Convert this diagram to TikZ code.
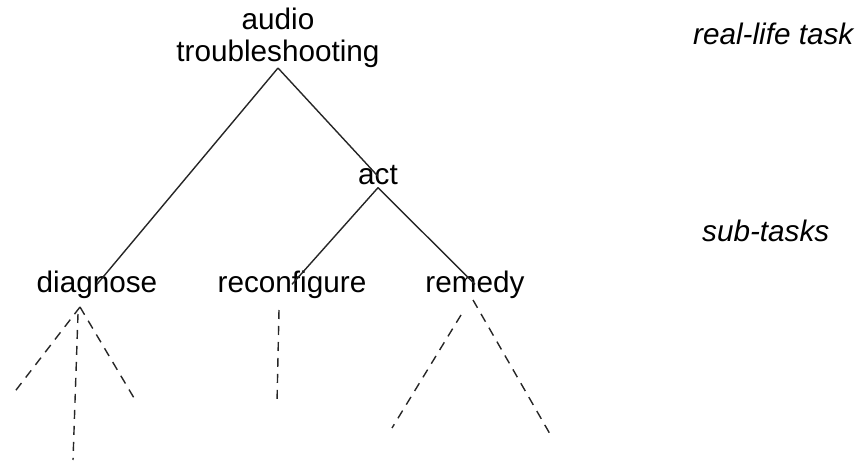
\documentclass[tikz,border=0pt]{standalone}
\usepackage{fontspec}
\setmainfont{Liberation Sans}
\begin{document}
\begin{tikzpicture}[x=1pt,y=-1pt,
  lbl/.style={font=\fontsize{29.7}{32}\selectfont, inner sep=0pt, text=black},
  tnode/.style={lbl, text height=0.85em, text depth=0.25em, anchor=base},
  edge/.style={draw=black!85, line width=1.4pt},
  dline/.style={draw=black!85, line width=1.4pt, dash pattern=on 9pt off 7pt},
  side/.style={lbl, font=\fontsize{29.7}{32}\selectfont\itshape, anchor=base west}]
\useasboundingbox (0,0) rectangle (867,462);
% tree nodes
\node[lbl, align=center, anchor=south] (root) at (278,68) {audio\\troubleshooting};
\node[tnode] (act) at (378,185) {act};
\node[tnode] (diag) at (97,293) {diagnose};
\node[tnode] (reconf) at (292,293) {reconfigure};
\node[tnode] (remedy) at (475,293) {remedy};
% side labels
\node[side] (real) at (693,45) {real-life task};
\node[side] (sub) at (702,242) {sub-tasks};
% solid edges
\draw[edge] (root.south) -- (diag.north);
\draw[edge] (root.south) -- (act.north);
\draw[edge] (act.south) -- (reconf.north);
\draw[edge] (act.south) -- (remedy.north);
% dangling dashed edges
\coordinate (dapex) at (80,307);
\coordinate (dmid) at (78,314);
\coordinate (d1) at (13,394);
\coordinate (d2) at (73,460);
\coordinate (d3) at (137,403);
\coordinate (rctop) at (279,310);
\coordinate (rc1) at (277,403);
\coordinate (rmtopl) at (461,315);
\coordinate (rmtopr) at (473,300);
\coordinate (rm1) at (392,428);
\coordinate (rm2) at (550,434);
\draw[dline] (dapex) -- (d1);
\draw[dline] (dapex) -- (d3);
\draw[dline] (dmid) -- (d2);
\draw[dline] (rctop) -- (rc1);
\draw[dline] (rmtopl) -- (rm1);
\draw[dline] (rmtopr) -- (rm2);
\end{tikzpicture}
\end{document}
